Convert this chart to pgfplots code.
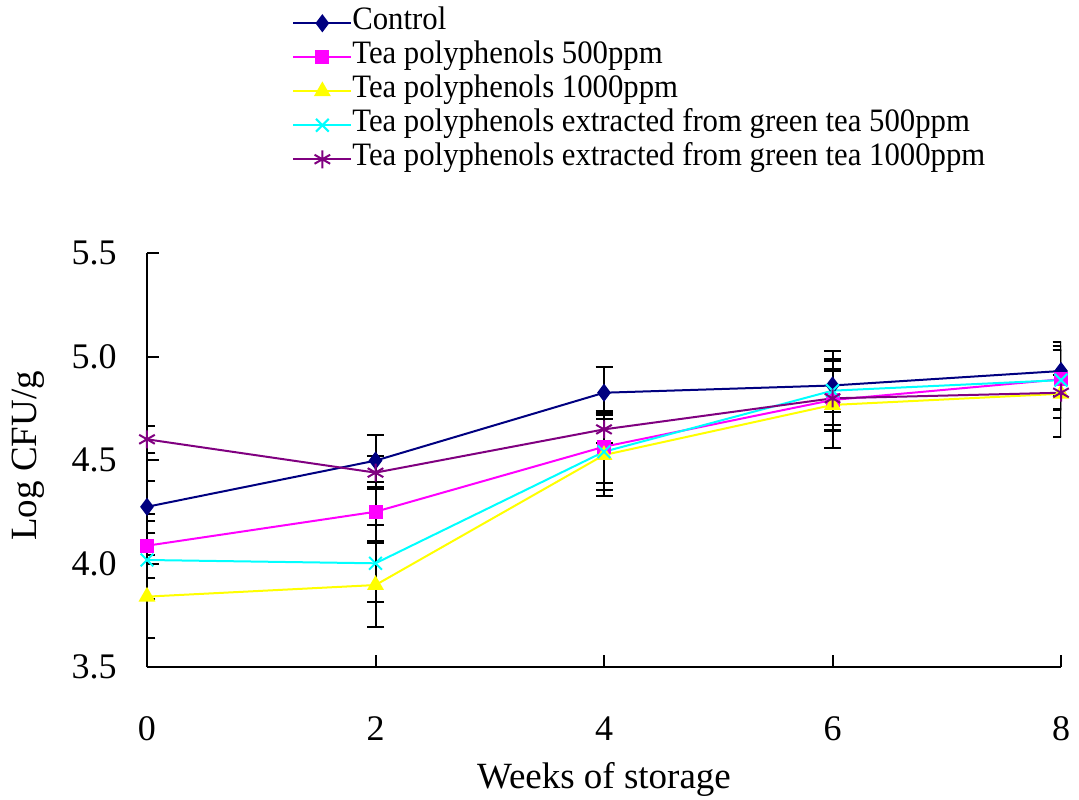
\documentclass[border=0pt]{standalone}
\usepackage{fontspec}
\setmainfont{Liberation Serif}
\newfontfamily\legfont{Liberation Serif}[FakeStretch=0.94]
\usepackage{pgfplots}
\pgfplotsset{compat=1.18}
\usetikzlibrary{calc}
\definecolor{cnavy}{RGB}{0,0,128}
\definecolor{cmag}{RGB}{255,0,255}
\definecolor{cyel}{RGB}{255,255,0}
\definecolor{ccya}{RGB}{0,255,255}
\definecolor{cpur}{RGB}{128,0,128}

\pgfplotstableread{
x y e
0 4.274 0.126
2 4.497 0.126
4 4.825 0.126
6 4.860 0.126
8 4.930 0.122
}\control
\pgfplotstableread{
x y e
0 4.086 0.155
2 4.250 0.143
4 4.564 0.175
6 4.790 0.150
8 4.890 0.142
}\tpa
\pgfplotstableread{
x y e
0 3.840 0.200
2 3.896 0.203
4 4.524 0.200
6 4.766 0.210
8 4.820 0.210
}\tpb
\pgfplotstableread{
x y e
0 4.017 0.190
2 4.001 0.187
4 4.540 0.185
6 4.835 0.190
8 4.886 0.185
}\gta
\pgfplotstableread{
x y e
0 4.600 0.065
2 4.439 0.080
4 4.648 0.068
6 4.798 0.130
8 4.825 0.085
}\gtb

\begin{document}
\begin{tikzpicture}
\path[use as bounding box] (-73.5pt,-66pt) rectangle (466pt,333.5pt);
\begin{axis}[
  at={(0,0)}, anchor=south west,
  scale only axis, width=457pt, height=207pt,
  xmin=0, xmax=8, ymin=3.5, ymax=5.5,
  axis lines*=left,
  axis line style={line width=1pt, -},
  xtick={0,2,4,6,8}, ytick={3.5,4,4.5,5,5.5},
  minor tick num=0,
  tick align=inside, major tick length=6pt,
  tick style={line width=1pt, black},
  /pgf/number format/assume math mode=true,
  ticklabel style={font=\fontsize{18}{18}\selectfont, inner sep=0pt},
  yticklabel style={/pgf/number format/fixed, /pgf/number format/fixed zerofill, /pgf/number format/precision=1, anchor=east, xshift=-15pt},
  xticklabel style={anchor=north, yshift=-24.5pt},
  xlabel={Weeks of storage},
  ylabel={Log CFU/g},
  xlabel style={at={(rel axis cs:0.5,0)}, anchor=north, yshift=-47.5pt, inner sep=0pt, font=\fontsize{18.5}{18.5}\selectfont},
  ylabel style={at={($(rel axis cs:0,0.51)+(-51pt,0)$)}, anchor=south, inner sep=0pt, font=\fontsize{18.5}{18.5}\selectfont},
  legend cell align=left,
  legend style={at={(rel axis cs:0.1586,1.597)}, anchor=north west, draw=none, fill=none, inner sep=0pt, row sep=0pt,
    nodes={font=\legfont\fontsize{16.35}{17}\selectfont, inner sep=0pt, text height=11.5pt, text depth=5.5pt},
    /tikz/every even column/.append style={column sep=3pt}},
  legend image code/.code={\draw[mark repeat=2,mark phase=2,#1] plot coordinates {(0pt,0pt)(14.5pt,0pt)(29pt,0pt)};},
  error bars/y dir=both, error bars/y explicit,
  error bars/error bar style={black, line width=1pt},
  error bars/error mark options={rotate=90, mark size=4.25pt, black, line width=1pt},
]
\addplot[cnavy, line width=1pt, mark=diamond*, mark size=3.75pt, mark options={fill=cnavy}] table[x=x,y=y,y error=e] {\control};
\addlegendentry{Control}
\addplot[cmag, line width=1pt, mark=square*, mark size=3pt, mark options={fill=cmag}] table[x=x,y=y,y error=e] {\tpa};
\addlegendentry{Tea polyphenols 500ppm}
\addplot[cyel, line width=1pt, mark=triangle*, mark size=3.9pt, mark options={fill=cyel}] table[x=x,y=y,y error=e] {\tpb};
\addlegendentry{Tea polyphenols 1000ppm}
\addplot[ccya, line width=1pt, mark=x, mark size=4.5pt, mark options={line width=1pt}] table[x=x,y=y,y error=e] {\gta};
\addlegendentry{Tea polyphenols extracted from green tea 500ppm}
\addplot[cpur, line width=1pt, mark=asterisk, mark size=4.5pt, mark options={line width=1pt}] table[x=x,y=y,y error=e] {\gtb};
\addlegendentry{Tea polyphenols extracted from green tea 1000ppm}
\end{axis}
\end{tikzpicture}
\end{document}
